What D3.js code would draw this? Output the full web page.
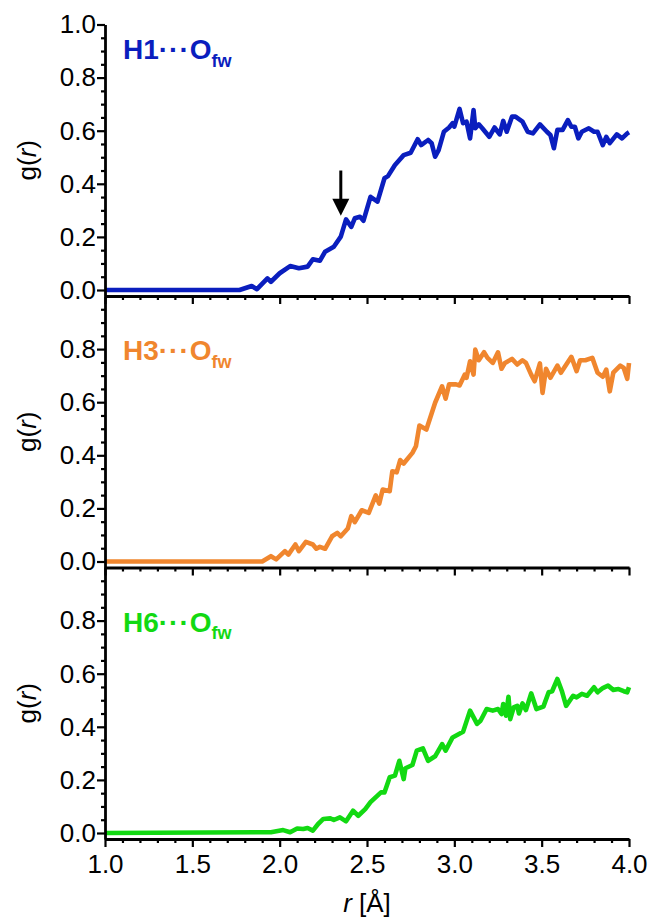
<!DOCTYPE html>
<html>
<head>
<meta charset="utf-8">
<script src="https://cdn.jsdelivr.net/npm/d3@7"></script>
<style>
  body { margin: 0; background: #fff; }
  svg { display: block; font-family: 'Liberation Sans', Arial, sans-serif; }
</style>
</head>
<body>
<div id="chart"></div>
<script>
// g(r), [r, g]
var h1 = [[1.0,0],[1.77,0],[1.84,0.015],[1.87,0.003],[1.93,0.044],[1.95,0.031],[2.00,0.063],[2.06,0.090],[2.11,0.082],[2.16,0.088],[2.19,0.116],[2.23,0.110],[2.26,0.144],[2.31,0.163],[2.35,0.201],[2.38,0.266],[2.41,0.238],[2.43,0.270],[2.46,0.276],[2.48,0.261],[2.52,0.351],[2.56,0.333],[2.60,0.421],[2.62,0.429],[2.66,0.471],[2.71,0.508],[2.75,0.517],[2.79,0.568],[2.81,0.546],[2.85,0.565],[2.87,0.553],[2.89,0.502],[2.91,0.527],[2.94,0.596],[2.97,0.612],[2.99,0.628],[3.00,0.615],[3.03,0.682],[3.05,0.628],[3.07,0.634],[3.09,0.571],[3.11,0.678],[3.12,0.609],[3.14,0.624],[3.16,0.609],[3.20,0.577],[3.23,0.612],[3.26,0.586],[3.28,0.637],[3.30,0.596],[3.33,0.653],[3.35,0.653],[3.39,0.634],[3.42,0.596],[3.45,0.590],[3.49,0.624],[3.53,0.596],[3.55,0.584],[3.57,0.534],[3.59,0.603],[3.62,0.603],[3.65,0.640],[3.67,0.615],[3.69,0.615],[3.71,0.571],[3.73,0.596],[3.77,0.609],[3.80,0.596],[3.82,0.596],[3.85,0.546],[3.87,0.577],[3.89,0.553],[3.93,0.586],[3.96,0.571],[3.99,0.590],[4.00,0.594]];

var h3 = [[1.0,0],[1.90,0],[1.95,0.020],[1.98,0.008],[2.03,0.039],[2.05,0.026],[2.09,0.064],[2.11,0.039],[2.15,0.074],[2.19,0.064],[2.21,0.048],[2.23,0.055],[2.26,0.048],[2.30,0.095],[2.33,0.108],[2.35,0.095],[2.39,0.124],[2.41,0.171],[2.43,0.148],[2.47,0.193],[2.51,0.183],[2.55,0.249],[2.57,0.218],[2.59,0.271],[2.63,0.265],[2.645,0.340],[2.67,0.336],[2.69,0.382],[2.71,0.369],[2.76,0.409],[2.78,0.434],[2.80,0.512],[2.84,0.497],[2.89,0.598],[2.93,0.660],[2.95,0.613],[2.97,0.667],[3.01,0.667],[3.03,0.663],[3.06,0.704],[3.07,0.692],[3.09,0.754],[3.11,0.704],[3.12,0.798],[3.14,0.758],[3.17,0.788],[3.19,0.767],[3.22,0.748],[3.25,0.788],[3.27,0.726],[3.29,0.748],[3.33,0.763],[3.36,0.742],[3.39,0.758],[3.41,0.748],[3.44,0.704],[3.46,0.679],[3.49,0.746],[3.505,0.635],[3.525,0.726],[3.55,0.692],[3.59,0.738],[3.61,0.711],[3.67,0.771],[3.70,0.717],[3.72,0.758],[3.75,0.758],[3.79,0.767],[3.82,0.711],[3.85,0.696],[3.87,0.723],[3.89,0.641],[3.91,0.711],[3.95,0.738],[3.97,0.729],[3.99,0.688],[4.00,0.748]];

var h6 = [[1.0,0],[1.95,0.003],[2.02,0.011],[2.06,0.003],[2.10,0.017],[2.135,0.015],[2.16,0.019],[2.19,0.009],[2.22,0.034],[2.25,0.053],[2.29,0.055],[2.31,0.049],[2.345,0.059],[2.38,0.044],[2.42,0.084],[2.45,0.065],[2.49,0.090],[2.52,0.116],[2.56,0.141],[2.58,0.153],[2.60,0.153],[2.63,0.210],[2.66,0.216],[2.685,0.272],[2.71,0.203],[2.72,0.244],[2.76,0.256],[2.785,0.310],[2.82,0.319],[2.85,0.272],[2.89,0.289],[2.93,0.335],[2.95,0.310],[2.99,0.360],[3.05,0.381],[3.09,0.461],[3.13,0.411],[3.15,0.423],[3.185,0.467],[3.22,0.461],[3.25,0.467],[3.27,0.448],[3.28,0.486],[3.296,0.442],[3.31,0.513],[3.32,0.429],[3.34,0.473],[3.36,0.479],[3.37,0.450],[3.39,0.488],[3.41,0.463],[3.44,0.526],[3.47,0.467],[3.51,0.476],[3.54,0.530],[3.56,0.534],[3.59,0.580],[3.615,0.536],[3.64,0.479],[3.68,0.517],[3.70,0.511],[3.73,0.524],[3.76,0.517],[3.80,0.549],[3.82,0.530],[3.85,0.546],[3.88,0.555],[3.91,0.539],[3.94,0.542],[3.97,0.534],[3.99,0.530],[4.00,0.549]];

var series = [h1, h3, h6];
var names = ['H1', 'H3', 'H6'];
var colors = ['#0a1ebe', '#f0862e', '#12d912'];

var xMajor = [1.0, 1.5, 2.0, 2.5, 3.0, 3.5, 4.0];
var xMinor = d3.range(11, 40).map(d => d / 10).filter(d => Math.round(d * 10) % 5 !== 0);
var yMajorTop = [0, 0.2, 0.4, 0.6, 0.8, 1.0];
var yMajorLow = [0, 0.2, 0.4, 0.6, 0.8];
var yMinor = d3.range(1, 20).filter(d => d % 4 !== 0).map(d => d / 20);

// arrow marking the shoulder on H1
var arrowR = 2.35, arrowFrom = 0.45, arrowTo = 0.28;

var W = 649, H = 918;
var panelTop = [24.5, 296, 567.5];
var panelH = 271.5;
var fontSize = '26px';

var svg = d3.select('#chart').append('svg')
  .attr('width', W)
  .attr('height', H);

var x = d3.scaleLinear().domain([1, 4]).range([105, 629]);

var line = d3.line()
  .x(d => x(d[0]));

series.forEach(function(data, i) {
  var top = panelTop[i];
  var y = d3.scaleLinear().domain([-0.0226, 1]).range([top + panelH, top]);
  var g = svg.append('g');

  // curve
  g.append('path')
    .datum(data)
    .attr('fill', 'none')
    .attr('stroke', colors[i])
    .attr('stroke-width', 4.6)
    .attr('stroke-linejoin', 'round')
    .attr('d', line.y(d => y(d[1])));

  // x axis (bottom of each panel)
  g.append('g')
    .attr('transform', 'translate(0,' + (top + panelH) + ')')
    .call(d3.axisBottom(x)
      .tickValues(xMajor)
      .tickSize(8)
      .tickSizeOuter(0)
      .tickPadding(8)
      .tickFormat(i === 2 ? d3.format('.1f') : ''));
  g.append('g')
    .attr('transform', 'translate(0,' + (top + panelH) + ')')
    .call(d3.axisBottom(x).tickValues(xMinor).tickSize(4).tickSizeOuter(0).tickFormat(''))
    .select('.domain').remove();

  // y axis
  g.append('g')
    .attr('transform', 'translate(105,0)')
    .call(d3.axisLeft(y)
      .tickValues(i === 0 ? yMajorTop : yMajorLow)
      .tickSize(8)
      .tickSizeOuter(0)
      .tickPadding(1)
      .tickFormat(d3.format('.1f')));
  g.append('g')
    .attr('transform', 'translate(105,0)')
    .call(d3.axisLeft(y).tickValues(yMinor).tickSize(4).tickSizeOuter(0).tickFormat(''))
    .select('.domain').remove();

  g.selectAll('.domain').attr('stroke', '#000').attr('stroke-width', 2.8);
  g.selectAll('.tick line').attr('stroke', '#000').attr('stroke-width', 2.2);
  g.selectAll('.tick text')
    .attr('fill', '#000')
    .style('font-size', fontSize);

  // y title
  var yt = g.append('text')
    .attr('transform', 'translate(36,' + (top + panelH / 2) + ') rotate(-90)')
    .attr('text-anchor', 'middle')
    .style('font-size', fontSize);
  yt.append('tspan').text('g(');
  yt.append('tspan').style('font-style', 'italic').text('r');
  yt.append('tspan').text(')');

  // panel label
  var lab = g.append('text')
    .attr('x', 123)
    .attr('y', top + (i === 0 ? 34.5 : 64))
    .attr('fill', colors[i])
    .style('font-weight', 'bold')
    .style('font-size', '28px');
  lab.append('tspan').text(names[i]);
  lab.append('tspan').style('letter-spacing', '1px').text('\u00B7\u00B7\u00B7');
  lab.append('tspan').text('O');
  lab.append('tspan').attr('dy', 7.5).style('font-size', '18px').text('fw');

  if (i === 0) {
    var ax = x(arrowR);
    var tip = y(arrowTo), tail = y(arrowFrom);
    g.append('line')
      .attr('x1', ax).attr('x2', ax)
      .attr('y1', tail).attr('y2', tip - 12)
      .attr('stroke', '#000')
      .attr('stroke-width', 3);
    g.append('path')
      .attr('d', 'M' + (ax - 8.5) + ',' + (tip - 17) + 'L' + (ax + 8.5) + ',' + (tip - 17) + 'L' + ax + ',' + tip + 'Z')
      .attr('fill', '#000');
  }
});

// x title
var xt = svg.append('text')
  .attr('x', x(2.5))
  .attr('y', 912)
  .attr('text-anchor', 'middle')
  .style('font-size', fontSize);
xt.append('tspan').style('font-style', 'italic').text('r');
xt.append('tspan').text(' [\u00C5]');
</script>
</body>
</html>
